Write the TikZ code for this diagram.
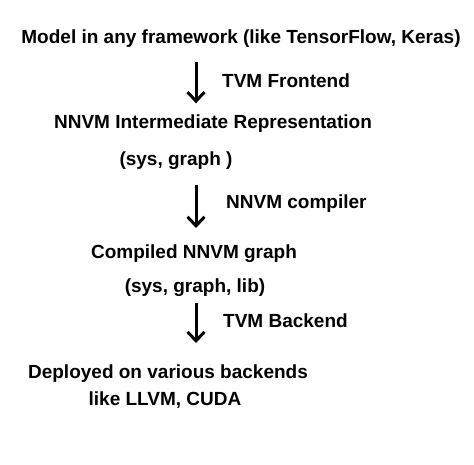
\documentclass[tikz,border=0pt]{standalone}
\usepackage{fontspec}
\setmainfont{Liberation Sans}
\usetikzlibrary{arrows.meta,calc}

\begin{document}
\begin{tikzpicture}[x=1pt, y=-1pt,
        stage/.style={anchor=base, inner sep=0pt, font=\fontsize{19}{22}\selectfont\bfseries},
        arrow/.style={-{Straight Barb[length=9pt, width=17pt]}, line width=3pt, color=black},
        tool/.style={anchor=base west, inner sep=0pt, font=\fontsize{19}{22}\selectfont\bfseries}
    ]
    \useasboundingbox (0,0) rectangle (474,464);
    \coordinate (spine) at (196,0);

    % Input model
    \node[stage] (model) at (241,43.5) {Model in any framework (like TensorFlow, Keras)};

    % Intermediate representation
    \node[stage] (nnvmir) at (213,128.3) {NNVM Intermediate Representation};
    \node[stage] (irparts) at (176,165) {(sys, graph )};

    % Compiled graph
    \node[stage] (compiled) at (194,258) {Compiled NNVM graph};
    \node[stage] (compparts) at (195,292) {(sys, graph, lib)};

    % Deployment
    \node[stage] (deployed) at (168,378) {Deployed on various backends};
    \node[stage] (targets) at (165,405) {like LLVM, CUDA};

    % Arrows
    \draw[arrow] ($(model.base -| spine)+(0,18.5)$) -- ($(nnvmir.base -| spine)+(0,-25)$);
    \node[tool] (frontend) at (222,87) {TVM Frontend};
    \draw[arrow] ($(irparts.base -| spine)+(0,20)$) -- ($(compiled.base -| spine)+(0,-30)$);
    \node[tool] (nnvmc) at (226,208) {NNVM compiler};
    \draw[arrow] ($(compparts.base -| spine)+(0,11)$) -- ($(deployed.base -| spine)+(0,-35)$);
    \node[tool] (backend) at (223,327) {TVM Backend};
\end{tikzpicture}
\end{document}
